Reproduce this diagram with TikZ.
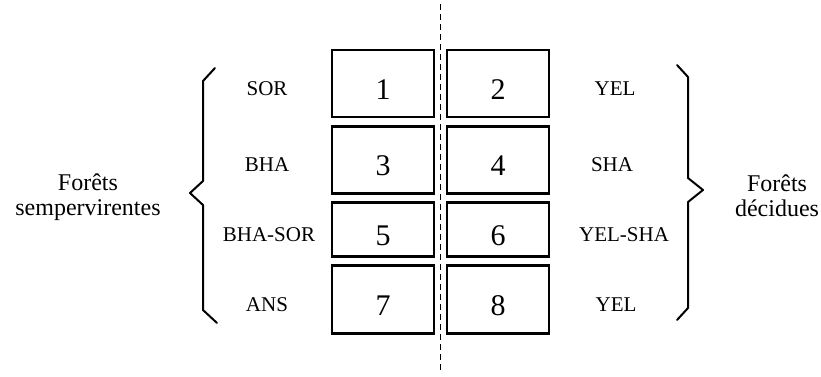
\documentclass[tikz,border=0pt]{standalone}
\usepackage{fontspec}
\setmainfont{Liberation Serif}
\usetikzlibrary{positioning}
\tikzset{
  cell/.style={draw,line width=2.2pt,outer sep=0pt,inner sep=0pt,
    minimum width=102pt,minimum height=67pt,
    text height=31pt,text depth=0pt,font=\fontsize{30}{30}\selectfont},
  tag/.style={inner sep=0pt,font=\fontsize{21}{24}\selectfont},
  group/.style={align=center,inner sep=0pt,font=\fontsize{24}{25}\selectfont},
  brace/.style={line width=2pt,line join=round,line cap=round},
  divider/.style={line width=1.6pt,dash pattern=on 6pt off 4pt}
}
\begin{document}
\begin{tikzpicture}[x=1pt,y=-1pt,node distance=9pt and 13pt]
  \useasboundingbox (0,0) rectangle (821,376);
  % grid of plots
  \node[cell] (c1) at (383,83.5) {1};
  \node[cell,right=of c1] (c2) {2};
  \node[cell,below=9.5pt of c1] (c3) {3};
  \node[cell,right=of c3] (c4) {4};
  \node[cell,below=of c3,minimum height=54pt] (c5) {5};
  \node[cell,right=of c5,minimum height=54pt] (c6) {6};
  \node[cell,below=of c5,minimum height=68pt] (c7) {7};
  \node[cell,right=of c7,minimum height=68pt] (c8) {8};
  % row names
  \node[tag,yshift=-5pt] (sor) at (267,0 |- c1) {SOR};
  \node[tag,yshift=-5pt] (bha) at (267,0 |- c3) {BHA};
  \node[tag,yshift=-5pt] (bhasor) at (269,0 |- c5) {BHA-SOR};
  \node[tag,yshift=-5pt] (ans) at (267,0 |- c7) {ANS};
  \node[tag,yshift=-5pt] (yel) at (615,0 |- c2) {YEL};
  \node[tag,yshift=-5pt] (sha) at (612,0 |- c4) {SHA};
  \node[tag,yshift=-5pt] (yelsha) at (624,0 |- c6) {YEL-SHA};
  \node[tag,yshift=-5pt] (yel2) at (616,0 |- c8) {YEL};
  % braces and forest types
  \draw[brace] (215,68) -- (203,81) -- (203,181) -- (190,193) -- (203,205) -- (203,310) -- (217,323);
  \draw[brace] (677,65) -- (688,77) -- (688,178) -- (703,190) -- (688,202) -- (688,308) -- (677,320);
  \node[group] (semper) at (88,197) {Forêts\\sempervirentes};
  \node[group] (decid) at (777,196) {Forêts\\décidues};
  % divider
  \draw[divider] (440.5,4) -- (440.5,372);
\end{tikzpicture}
\end{document}
